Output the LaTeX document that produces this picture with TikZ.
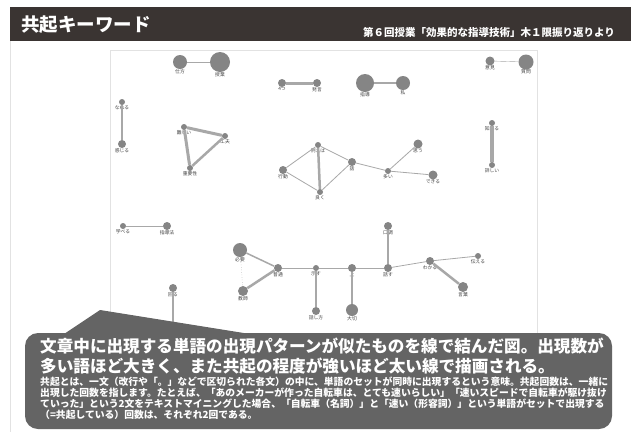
\documentclass[tikz,border=0pt]{standalone}
\usepackage{fontspec}
\setmainfont{Noto Sans CJK JP}
\definecolor{bargray}{HTML}{3A3432}
\definecolor{calloutgray}{HTML}{646464}
\definecolor{nodegray}{HTML}{858585}
\definecolor{edgegray}{HTML}{A8A8A8}
\definecolor{labgray}{HTML}{444444}
\definecolor{framegray}{HTML}{E2E2E2}
\tikzset{
  kw/.style={circle, fill=nodegray, draw=none, inner sep=0pt, minimum size=#1},
  lab/.style={font=\fontsize{4.8}{5}\selectfont, text=labgray, inner sep=0.3pt},
  kwlabel/.style={label={[lab, label distance=-0.5pt]below:#1}},
  edge/.style={draw=edgegray, line width=#1},
  big/.style={font=\fontsize{16.6}{18}\bfseries\selectfont, text=white, inner sep=0pt, anchor=base west},
  small/.style={font=\fontsize{9.8}{11}\bfseries\selectfont, text=white, inner sep=0pt, anchor=base west}
}
\begin{document}
\begin{tikzpicture}[x=1pt, y=-1pt]
    \useasboundingbox (0,0) rectangle (631,432);
    \fill[white] (0,0) rectangle (631,432);

    % 見出し
    \fill[bargray] (10,7) rectangle (631,41);
    \node[font=\fontsize{18.5}{20}\bfseries\selectfont, text=white, anchor=west, inner sep=0pt] (title) at (21,25) {共起キーワード};
    \node[font=\fontsize{10.5}{11}\bfseries\selectfont, text=white, anchor=east, inner sep=0pt] (subtitle) at (615,32) {第６回授業「効果的な指導技術」木１限振り返りより};

    % 枠
    \draw[framegray, line width=0.8pt] (10.5,41) -- (10.5,432);
    \draw[framegray, line width=0.6pt] (110,50) rectangle (537,334);

    % 上段
    \node[kw=14pt, kwlabel=仕方] (shikata) at (180,62) {};
    \node[kw=20pt, kwlabel=授業] (jugyo) at (220,62) {};
    \node[kw=8pt, kwlabel=4つ] (yottsu) at (282,83) {};
    \node[kw=8pt, kwlabel=発言] (hatsugen) at (317,83) {};
    \node[kw=18pt, kwlabel=指導] (shido) at (365,83) {};
    \node[kw=14pt, kwlabel=私] (watashi) at (403,83) {};
    \node[kw=9pt, kwlabel=意見] (iken) at (490,61) {};
    \node[kw=15pt, kwlabel=質問] (shitsumon) at (526,62) {};
    \draw[edge=0.4pt] (shikata) -- (jugyo);
    \draw[edge=3pt] (yottsu) -- (hatsugen);
    \draw[edge=2pt] (shido) -- (watashi);
    \draw[edge=0.4pt] (iken) -- (shitsumon);

    % 中段
    \node[kw=6pt, kwlabel=なれる] (nareru) at (122,102) {};
    \node[kw=8pt, kwlabel=感じる] (kanjiru) at (122,144) {};
    \draw[edge=1.5pt] (nareru) -- (kanjiru);

    \node[kw=6pt, kwlabel=難しい] (muzukashii) at (184,127) {};
    \node[kw=6pt, kwlabel=工夫] (kufu) at (225,136) {};
    \node[kw=6pt, kwlabel=重要性] (juyosei) at (190,168) {};
    \draw[edge=3pt] (muzukashii) -- (kufu);
    \draw[edge=3pt] (muzukashii) -- (juyosei);
    \draw[edge=2.5pt] (kufu) -- (juyosei);

    \node[kw=8pt, kwlabel=行動] (kodo) at (283,170) {};
    \node[kw=6pt, kwlabel=例えば] (tatoeba) at (318,145) {};
    \node[kw=6pt, kwlabel=良く] (yoku) at (320,192) {};
    \node[kw=8pt, kwlabel=話] (hanashi) at (352,162) {};
    \node[kw=6pt, kwlabel=多い] (ooi) at (388,171) {};
    \node[kw=9pt, kwlabel=思う] (omou) at (418,144) {};
    \node[kw=9pt, kwlabel=できる] (dekiru) at (433,175) {};
    \draw[edge=0.8pt] (kodo) -- (tatoeba);
    \draw[edge=0.8pt] (kodo) -- (yoku);
    \draw[edge=2.5pt] (tatoeba) -- (yoku);
    \draw[edge=0.8pt] (tatoeba) -- (hanashi);
    \draw[edge=0.8pt] (yoku) -- (hanashi);
    \draw[edge=0.8pt] (hanashi) -- (ooi);
    \draw[edge=0.8pt] (ooi) -- (omou);
    \draw[edge=0.8pt] (ooi) -- (dekiru);

    \node[kw=6pt, kwlabel=知れる] (shireru) at (492,123) {};
    \node[kw=6pt, kwlabel=詳しい] (kuwashii) at (492,165) {};
    \draw[edge=4pt] (shireru) -- (kuwashii);

    % 下段
    \node[kw=6pt, kwlabel=学べる] (manaberu) at (123,226) {};
    \node[kw=8pt, kwlabel=指導法] (shidoho) at (167,226) {};
    \draw[edge=0.8pt] (manaberu) -- (shidoho);

    \node[kw=14pt, kwlabel=必要] (hitsuyo) at (240,250) {};
    \node[kw=8pt, kwlabel=普通] (futsu) at (278,268) {};
    \node[kw=10pt, kwlabel=教師] (kyoshi) at (243,291) {};
    \node[kw=6pt, kwlabel=示す] (shimesu) at (316,268) {};
    \node[kw=8pt, kwlabel=話し方] (hanashikata) at (316,311) {};
    \node[kw=8pt, kwlabel=上] (ue) at (352,268) {};
    \node[kw=12pt, kwlabel=大切] (taisetsu) at (352,310) {};
    \node[kw=8pt, kwlabel=話す] (hanasu) at (388,268) {};
    \node[kw=8pt, kwlabel=口調] (kucho) at (388,226) {};
    \node[kw=8pt, kwlabel=わかる] (wakaru) at (430,261) {};
    \node[kw=6pt, kwlabel=伝える] (tsutaeru) at (478,256) {};
    \node[kw=10pt, kwlabel=言葉] (kotoba) at (463,287) {};
    \node[kw=8pt, kwlabel=回る] (mawaru) at (173,288) {};
    \coordinate (mawarushita) at (173,345);
    \draw[edge=1.5pt] (hitsuyo) -- (futsu);
    \draw[edge=0.5pt, dotted] (hitsuyo) -- (kyoshi);
    \draw[edge=2.5pt] (kyoshi) -- (futsu);
    \draw[edge=0.8pt] (futsu) -- (shimesu);
    \draw[edge=1.5pt] (shimesu) -- (hanashikata);
    \draw[edge=0.8pt] (shimesu) -- (ue);
    \draw[edge=1.5pt] (ue) -- (taisetsu);
    \draw[edge=0.8pt] (ue) -- (hanasu);
    \draw[edge=1.5pt] (hanasu) -- (kucho);
    \draw[edge=0.8pt] (hanasu) -- (wakaru);
    \draw[edge=0.8pt] (wakaru) -- (tsutaeru);
    \draw[edge=2.5pt] (wakaru) -- (kotoba);
    \draw[edge=1.5pt] (mawaru) -- (mawarushita);

    % 吹き出し
    \fill[calloutgray] (100,310) -- (250,334) -- (55,340) -- cycle;
    \fill[calloutgray, rounded corners=13pt] (25,333) rectangle (612,429);
    \node[big] (line1) at (40,352) {文章中に出現する単語の出現パターンが似たものを線で結んだ図。出現数が};
    \node[big] (line2) at (40,372) {多い語ほど大きく、また共起の程度が強いほど太い線で描画される。};
    \node[small] (line3) at (40,385) {共起とは、一文（改行や「。」などで区切られた各文）の中に、単語のセットが同時に出現するという意味。共起回数は、一緒に};
    \node[small] (line4) at (40,396) {出現した回数を指します。たとえば、「あのメーカーが作った自転車は、とても速いらしい」「速いスピードで自転車が駆け抜け};
    \node[small] (line5) at (40,407) {ていった」という2文をテキストマイニングした場合、「自転車（名詞）」と「速い（形容詞）」という単語がセットで出現する};
    \node[small] (line6) at (40,418) {（=共起している）回数は、それぞれ2回である。};
\end{tikzpicture}
\end{document}
